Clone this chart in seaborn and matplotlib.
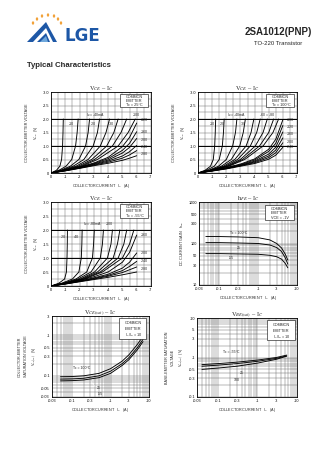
import matplotlib
matplotlib.use("Agg")
import matplotlib.pyplot as plt
import matplotlib.ticker as mticker
from matplotlib.patches import Polygon, Circle, Rectangle
import numpy as np
import pandas as pd
import seaborn as sns

# ---------------------------------------------------------------- data
# VCE - IC families.  "Knee" curves: IC read at fixed VCE levels.
knee_vce = [0, -0.1, -0.25, -0.5, -1.0, -1.5, -2.0]
# Curves that stay below -2 V: VCE read at fixed IC levels.
fan_ic = [0, -1, -2, -3, -4, -5, -5.5, -6]

t25_knee_ic = [
    [0, -0.38, -0.62, -0.74, -0.81, -0.84, -0.86],
    [0, -0.55, -1.05, -1.45, -1.72, -1.83, -1.90],
    [0, -0.65, -1.35, -1.95, -2.42, -2.60, -2.70],
    [0, -0.75, -1.55, -2.30, -2.95, -3.25, -3.40],
    [0, -0.82, -1.75, -2.60, -3.45, -3.85, -4.10],
    [0, -0.90, -1.90, -2.85, -3.90, -4.40, -4.70],
    [0, -0.95, -2.05, -3.05, -4.30, -4.90, -5.30],
    [0, -1.00, -2.15, -3.25, -4.70, -5.40, -5.90],
]
t25_fan_vce = [
    [0, -0.10, -0.22, -0.37, -0.58, -0.98, -1.32, -1.85],
    [0, -0.10, -0.21, -0.35, -0.53, -0.84, -1.10, -1.53],
    [0, -0.09, -0.20, -0.33, -0.48, -0.74, -0.95, -1.28],
    [0, -0.09, -0.19, -0.31, -0.44, -0.63, -0.79, -1.02],
    [0, -0.08, -0.18, -0.29, -0.40, -0.55, -0.67, -0.83],
    [0, -0.08, -0.17, -0.27, -0.36, -0.47, -0.55, -0.64],
]

t100_knee_ic = [
    [0, -0.50, -0.88, -1.08, -1.18, -1.22, -1.25],
    [0, -0.60, -1.15, -1.50, -1.72, -1.80, -1.85],
    [0, -0.75, -1.45, -2.00, -2.45, -2.65, -2.75],
    [0, -0.82, -1.65, -2.35, -2.95, -3.20, -3.35],
    [0, -0.88, -1.80, -2.60, -3.40, -3.75, -3.95],
    [0, -0.92, -1.92, -2.80, -3.70, -4.15, -4.40],
    [0, -0.96, -2.02, -3.00, -4.05, -4.60, -4.90],
    [0, -1.00, -2.10, -3.15, -4.35, -5.00, -5.35],
    [0, -1.03, -2.18, -3.30, -4.60, -5.30, -5.70],
]
t100_fan_vce = [
    [0, -0.09, -0.20, -0.33, -0.52, -0.88, -1.25, -1.97],
    [0, -0.09, -0.19, -0.31, -0.48, -0.80, -1.10, -1.76],
    [0, -0.08, -0.18, -0.29, -0.44, -0.70, -0.96, -1.52],
    [0, -0.08, -0.17, -0.28, -0.41, -0.63, -0.85, -1.30],
    [0, -0.08, -0.16, -0.27, -0.38, -0.57, -0.75, -1.12],
    [0, -0.07, -0.15, -0.25, -0.35, -0.51, -0.66, -0.95],
]

tm55_knee_ic = [
    [0, -0.55, -0.95, -1.08, -1.12, -1.14, -1.15],
    [0, -0.75, -1.50, -1.95, -2.12, -2.16, -2.18],
    [0, -0.85, -1.75, -2.50, -2.90, -2.98, -3.03],
    [0, -0.92, -1.90, -2.80, -3.45, -3.60, -3.67],
    [0, -0.98, -2.05, -3.05, -3.95, -4.20, -4.30],
    [0, -1.02, -2.15, -3.25, -4.35, -4.65, -4.82],
    [0, -1.06, -2.25, -3.45, -4.70, -5.10, -5.30],
    [0, -1.10, -2.35, -3.60, -5.00, -5.50, -5.80],
]
tm55_fan_vce = [
    [0, -0.09, -0.20, -0.33, -0.50, -0.85, -1.20, -1.82],
    [0, -0.08, -0.18, -0.29, -0.42, -0.64, -0.85, -1.18],
    [0, -0.08, -0.17, -0.27, -0.38, -0.55, -0.70, -0.88],
    [0, -0.07, -0.16, -0.25, -0.35, -0.48, -0.58, -0.68],
    [0, -0.07, -0.15, -0.23, -0.31, -0.40, -0.45, -0.50],
]

# hFE - IC  (|IC| in A)
hfe_ic = [0.045, 0.1, 0.3, 1, 2, 3, 4, 5, 5.8]
hfe_100 = [148, 147, 144, 138, 122, 100, 78, 55, 40]
hfe_25 = [105, 105, 103, 100, 92, 80, 64, 45, 32]
hfe_m55 = [57, 57, 56, 55, 52, 48, 42, 33, 26]

# VCE(sat) - IC  (|IC| and |VCE(sat)|)
vcesat_ic = [0.05, 0.1, 0.2, 0.5, 1, 2, 3, 5, 7]
vcesat_100 = [0.095, 0.096, 0.100, 0.115, 0.15, 0.23, 0.33, 0.60, 0.95]
vcesat_25 = [0.083, 0.084, 0.087, 0.100, 0.13, 0.20, 0.28, 0.50, 0.80]
vcesat_m55 = [0.075, 0.076, 0.079, 0.090, 0.115, 0.18, 0.25, 0.44, 0.70]

# VBE(sat) - IC  (|IC| and |VBE(sat)|)
vbesat_ic = [0.04, 0.1, 0.3, 1, 3, 5.5]
vbesat_m55 = [0.66, 0.70, 0.76, 0.86, 1.00, 1.15]
vbesat_25 = [0.60, 0.64, 0.70, 0.80, 0.95, 1.10]
vbesat_100 = [0.50, 0.54, 0.60, 0.72, 0.90, 1.08]

# axis ticks
lin_x_ticks = [0, -1, -2, -3, -4, -5, -6, -7]
lin_y_ticks = [0, -0.5, -1.0, -1.5, -2.0, -2.5, -3.0]
log_x_ticks = [0.03, 0.1, 0.3, 1, 3, 10]
log_x_labels = ["-0.03", "-0.1", "-0.3", "-1", "-3", "-10"]
hfe_ticks = [10, 30, 50, 100, 300, 500, 1000]
vcesat_ticks = [0.03, 0.05, 0.1, 0.3, 0.5, 1, 3]
vbesat_ticks = [0.1, 0.3, 0.5, 1, 3, 5, 10]

# ---------------------------------------------------------------- figure
sns.set_theme(style="white")
plt.rcParams["font.family"] = ["Liberation Sans", "DejaVu Sans"]
plt.rcParams["mathtext.fontset"] = "stix"
plt.rcParams["axes.unicode_minus"] = False

W, H = 336, 475
fig = plt.figure(figsize=(W / 100, H / 100), dpi=100)
fig.patch.set_facecolor("white")

FS = 2.7
GRID = "#6a6a6a"
GLW = 0.33
CLW = 0.65


def px_axes(l, t, r, b):
    return fig.add_axes([l / W, 1 - b / H, (r - l) / W, (b - t) / H])


def family_frame(knee_ic, fan_vce):
    rows = []
    for k, ics in enumerate(knee_ic):
        for ic, v in zip(ics, knee_vce):
            rows.append((f"k{k}", ic, v))
    for k, vs in enumerate(fan_vce):
        for ic, v in zip(fan_ic, vs):
            rows.append((f"f{k}", ic, v))
    return pd.DataFrame(rows, columns=["curve", "ic", "vce"])


def style_axes(ax):
    for s in ax.spines.values():
        s.set_color("black")
        s.set_linewidth(0.6)
    ax.tick_params(which="both", length=0, pad=1.5, labelsize=FS, colors="black")
    ax.set_facecolor("white")


def info_box(ax, lines, x0=0.69, x1=0.97, y0=0.81, y1=0.975):
    ax.add_patch(Rectangle((x0, y0), x1 - x0, y1 - y0, transform=ax.transAxes,
                           facecolor="white", edgecolor="black", lw=0.4, zorder=4))
    n = len(lines)
    for i, t in enumerate(lines):
        ax.text(x0 + 0.06, y1 - (i + 0.75) * (y1 - y0) / (n + 0.3), t,
                transform=ax.transAxes, fontsize=FS, va="center", ha="left", zorder=5)


def title(ax, txt):
    ax.set_title(txt, fontsize=4.6, family=["Liberation Serif", "DejaVu Serif"], pad=1.5)


def vce_panel(ax, knee_ic, fan_vce, box, labels):
    df = family_frame(knee_ic, fan_vce)
    sns.lineplot(data=df, x="ic", y="vce", units="curve", estimator=None, sort=False,
                 color="black", lw=CLW, ax=ax, legend=False)
    ax.set_xlim(0, -7)
    ax.set_ylim(0, -3)
    ax.set_xticks(lin_x_ticks)
    ax.set_xticklabels([f"{v:g}" if v else "0" for v in lin_x_ticks])
    ax.set_yticks(lin_y_ticks)
    ax.set_yticklabels(["0"] + [f"{v:.1f}" for v in lin_y_ticks[1:]])
    ax.set_xticks(np.arange(0, -7.01, -0.5), minor=True)
    ax.set_yticks(np.arange(0, -3.01, -0.25), minor=True)
    ax.grid(which="both", color=GRID, lw=GLW)
    for yb in (-1.0, -2.0):
        ax.axhline(yb, color="black", lw=0.7, zorder=2)
    style_axes(ax)
    ax.set_xlabel("COLLECTOR CURRENT   I$_C$   (A)", fontsize=FS, labelpad=2)
    ax.set_ylabel("COLLECTOR-EMITTER VOLTAGE\nV$_{CE}$  (V)", fontsize=FS, labelpad=2,
                  linespacing=1.6)
    title(ax, "V$_{CE}$ – I$_C$")
    info_box(ax, box)
    for x, y, t in labels:
        ax.text(x, y, t, fontsize=2.5, ha="center", va="center", zorder=5)


def log_x(ax):
    ax.set_xscale("log")
    ax.set_xlim(0.03, 10)
    ax.set_xticks(log_x_ticks)
    ax.set_xticklabels(log_x_labels)
    ax.xaxis.set_minor_locator(mticker.LogLocator(base=10, subs=np.arange(1, 10)))
    ax.xaxis.set_minor_formatter(mticker.NullFormatter())


def log_y(ax, lo, hi, ticks, neg=True):
    ax.set_yscale("log")
    ax.set_ylim(lo, hi)
    ax.set_yticks(ticks)
    ax.set_yticklabels([("-" if neg else "") + f"{t:g}" for t in ticks])
    ax.yaxis.set_minor_locator(mticker.LogLocator(base=10, subs=np.arange(1, 10)))
    ax.yaxis.set_minor_formatter(mticker.NullFormatter())


def temp_frame(xs, series):
    rows = []
    for name, ys in series.items():
        for x, y in zip(xs, ys):
            rows.append((name, x, y))
    return pd.DataFrame(rows, columns=["tc", "x", "y"])


# -------- row 1 / row 2 left: VCE - IC at three case temperatures
ax1 = px_axes(51, 92, 151, 173)
vce_panel(ax1, t25_knee_ic, t25_fan_vce, ["COMMON", "EMITTER", "Tc = 25°C"],
          [(-1.45, -1.8, "-10"), (-2.95, -1.8, "-20"), (-4.25, -1.8, "-30"),
           (-3.1, -2.15, "I$_B$ = -40mA"), (-6.0, -2.15, "-100"),
           (-6.55, -1.97, "-120"), (-6.55, -1.52, "-160"), (-6.55, -1.22, "-200"),
           (-6.55, -0.97, "-240"), (-6.55, -0.70, "-280")])

ax2 = px_axes(198, 92, 297, 173)
vce_panel(ax2, t100_knee_ic, t100_fan_vce, ["COMMON", "EMITTER", "Tc = 100°C"],
          [(-1.0, -1.8, "-10"), (-1.75, -1.8, "-20"), (-3.2, -1.8, "-30"),
           (-2.75, -2.15, "I$_B$ = -40mA"), (-4.9, -2.15, "-60 = -80"),
           (-6.55, -1.97, "-100"), (-6.55, -1.70, "-120"), (-6.55, -1.46, "-160"),
           (-6.55, -1.15, "-200"), (-6.55, -0.97, "-240")])

ax3 = px_axes(51, 202, 151, 286)
vce_panel(ax3, tm55_knee_ic, tm55_fan_vce, ["COMMON", "EMITTER", "Tc = -55°C"],
          [(-0.85, -1.76, "-20"), (-1.8, -1.76, "-40"),
           (-2.9, -2.2, "I$_B$ = -80mA"), (-4.1, -2.2, "-100"),
           (-6.55, -1.82, "-160"), (-6.55, -1.18, "-200"), (-6.55, -0.88, "-240"),
           (-6.55, -0.62, "-280")])

# -------- hFE - IC
ax4 = px_axes(199, 202, 297, 285)
df4 = temp_frame(hfe_ic, {"100": hfe_100, "25": hfe_25, "-55": hfe_m55})
sns.lineplot(data=df4, x="x", y="y", units="tc", estimator=None, sort=False,
             color="black", lw=CLW, ax=ax4, legend=False)
log_x(ax4)
log_y(ax4, 10, 1000, hfe_ticks, neg=False)
ax4.grid(which="both", color=GRID, lw=GLW)
style_axes(ax4)
ax4.set_xlabel("COLLECTOR CURRENT   I$_C$   (A)", fontsize=FS, labelpad=2)
ax4.set_ylabel("DC CURRENT GAIN   h$_{FE}$", fontsize=FS, labelpad=2)
title(ax4, "h$_{FE}$ – I$_C$")
info_box(ax4, ["COMMON", "EMITTER", "VCE = -1V"], x0=0.67, y0=0.78, y1=0.96)
ax4.text(0.32, 175, "Tc = 100°C", fontsize=2.5, ha="center", va="center")
ax4.text(0.32, 80, "25", fontsize=2.5, ha="center", va="center")
ax4.text(0.2, 45, "-55", fontsize=2.5, ha="center", va="center")

# -------- VCE(sat) - IC
ax5 = px_axes(52, 316, 149, 397)
df5 = temp_frame(vcesat_ic, {"100": vcesat_100, "25": vcesat_25, "-55": vcesat_m55})
sns.lineplot(data=df5, x="x", y="y", units="tc", estimator=None, sort=False,
             color="black", lw=CLW, ax=ax5, legend=False)
log_x(ax5)
log_y(ax5, 0.03, 3, vcesat_ticks)
ax5.grid(which="both", color=GRID, lw=GLW)
style_axes(ax5)
ax5.set_xlabel("COLLECTOR CURRENT   I$_C$   (A)", fontsize=FS, labelpad=2)
ax5.set_ylabel("COLLECTOR-EMITTER\nSATURATION VOLTAGE\nV$_{CE(sat)}$  (V)", fontsize=FS,
               labelpad=2, linespacing=1.5)
title(ax5, "V$_{CE(sat)}$ – I$_C$")
info_box(ax5, ["COMMON", "EMITTER", "I$_C$/I$_B$ = 10"], y0=0.72, y1=0.97)
ax5.text(0.18, 0.16, "Tc = 100°C", fontsize=2.5, ha="center", va="center")
ax5.annotate("25", xy=(0.3, 0.092), xytext=(0.5, 0.05), fontsize=2.5,
             ha="center", va="center", arrowprops=dict(arrowstyle="-", lw=0.35))
ax5.annotate("-55", xy=(0.28, 0.082), xytext=(0.55, 0.036), fontsize=2.5,
             ha="center", va="center", arrowprops=dict(arrowstyle="-", lw=0.35))

# -------- VBE(sat) - IC
ax6 = px_axes(197, 318, 297, 397)
df6 = temp_frame(vbesat_ic, {"-55": vbesat_m55, "25": vbesat_25, "100": vbesat_100})
sns.lineplot(data=df6, x="x", y="y", units="tc", estimator=None, sort=False,
             color="black", lw=CLW, ax=ax6, legend=False)
log_x(ax6)
log_y(ax6, 0.1, 10, vbesat_ticks)
ax6.grid(which="both", color=GRID, lw=GLW)
style_axes(ax6)
ax6.set_xlabel("COLLECTOR CURRENT   I$_C$   (A)", fontsize=FS, labelpad=2)
ax6.set_ylabel("BASE-EMITTER SATURATION\nVOLTAGE\nV$_{BE(sat)}$  (V)", fontsize=FS,
               labelpad=2, linespacing=1.5)
title(ax6, "V$_{BE(sat)}$ – I$_C$")
info_box(ax6, ["COMMON", "EMITTER", "I$_C$/I$_B$ = 10"], x0=0.70, x1=0.98, y0=0.72, y1=0.97)
ax6.text(0.22, 1.4, "Tc = -55°C", fontsize=2.5, ha="center", va="center")
ax6.annotate("25", xy=(0.25, 0.68), xytext=(0.4, 0.4), fontsize=2.5,
             ha="center", va="center", arrowprops=dict(arrowstyle="-", lw=0.35))
ax6.annotate("100", xy=(0.22, 0.58), xytext=(0.3, 0.27), fontsize=2.5,
             ha="center", va="center", arrowprops=dict(arrowstyle="-", lw=0.35))

# ---------------------------------------------------------------- header
def fx(x):
    return x / W


def fy(y):
    return 1 - y / H


blue = "#1d57a6"
light = "#6fa8dc"
fig.patches.append(Polygon([(fx(27), fy(42)), (fx(46), fy(22)), (fx(57), fy(42))],
                           closed=True, transform=fig.transFigure, facecolor=blue,
                           edgecolor="none"))
fig.patches.append(Polygon([(fx(33), fy(42)), (fx(46), fy(28)), (fx(53), fy(42)),
                            (fx(50), fy(42)), (fx(46), fy(33)), (fx(37), fy(42))],
                           closed=True, transform=fig.transFigure, facecolor="white",
                           edgecolor="none"))
fig.patches.append(Polygon([(fx(40), fy(42)), (fx(46), fy(36)), (fx(48), fy(42))],
                           closed=True, transform=fig.transFigure, facecolor=light,
                           edgecolor="none"))
for cx, cy in [(33, 23), (37, 19), (42, 16), (48, 15), (54, 16), (58, 19), (61, 23)]:
    fig.patches.append(Circle((fx(cx), fy(cy)), 1.2 / W, transform=fig.transFigure,
                              facecolor="#f2a23a", edgecolor="none"))
fig.text(fx(64), fy(41), "LGE", fontsize=12, fontweight="bold", color=blue,
         family="DejaVu Sans", ha="left", va="baseline")

fig.text(fx(312), fy(35), "2SA1012(PNP)", fontsize=7, fontweight="bold",
         ha="right", va="baseline")
fig.text(fx(302), fy(45), "TO-220 Transistor", fontsize=4.3, ha="right", va="baseline")
fig.text(fx(27), fy(67), "Typical Characteristics", fontsize=5.6, fontweight="bold",
         ha="left", va="baseline")

fig.savefig("out.png", dpi=100, facecolor="white")
